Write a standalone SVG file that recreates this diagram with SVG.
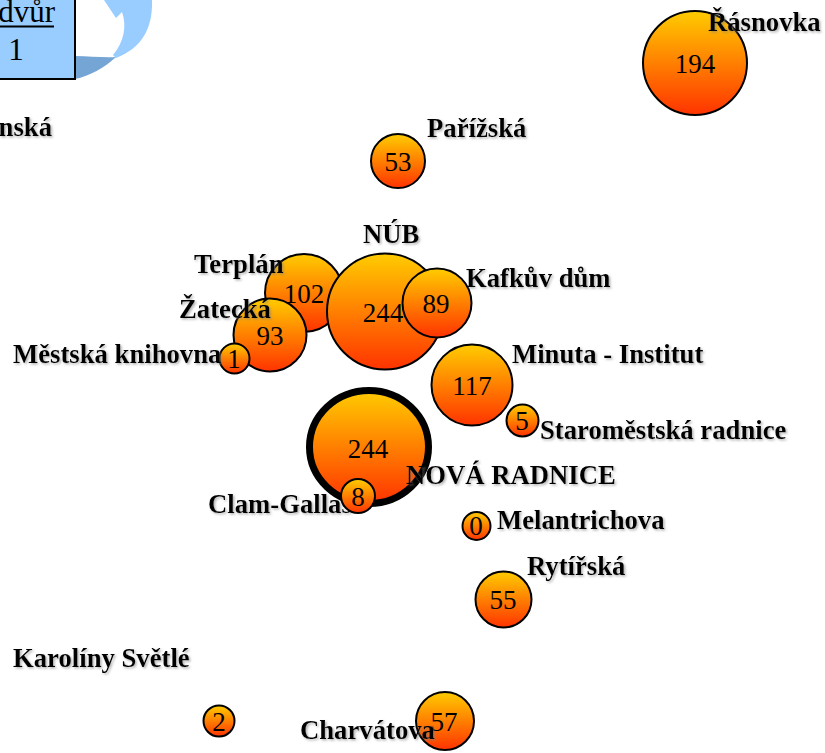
<svg xmlns="http://www.w3.org/2000/svg" width="825" height="753" viewBox="0 0 825 753">
  <defs>
    <linearGradient id="ball" x1="0" y1="0" x2="0" y2="1">
      <stop offset="0" stop-color="#FFCC00"/>
      <stop offset="1" stop-color="#FF3300"/>
    </linearGradient>
    <filter id="shade" x="-5%" y="-20%" width="115%" height="150%">
      <feDropShadow dx="1.5" dy="1.5" stdDeviation="0.8" flood-color="#808080" flood-opacity="0.6"/>
    </filter>
  </defs>
  <style>
    .ball { fill: url(#ball); stroke: #000; stroke-width: 2; }
    .val { font-family: "Liberation Serif", "Times New Roman", serif; font-size: 27px; fill: #000; text-anchor: middle; }
    .lbl { font-family: "Liberation Serif", "Times New Roman", serif; font-size: 26.7px; font-weight: bold; fill: #000; filter: url(#shade); }
    .box { font-family: "Liberation Serif", "Times New Roman", serif; font-size: 31px; fill: #000; }
  </style>
  <rect width="825" height="753" fill="#fff"/>

  <!-- corner legend box and curved arrow -->
  <g id="legend">
    <path d="M104,0 L152,0 C153,28 142,48 116,58 L113,55 C124,42 127,26 122,12 L116,18 Z" fill="#99CCFF"/>
    <path d="M75,56 C90,56 104,58 116,57 C104,68 90,76 75,79 Z" fill="#75A5D5"/>
    <path d="M-2,-2 H75 V79 H-2 Z" fill="#99CCFF"/>
    <path d="M75,-2 V79 H-2" fill="none" stroke="#000" stroke-width="2"/>
    <text class="box" x="55" y="22" text-anchor="end">dvůr</text>
    <line x1="0" y1="26.5" x2="54" y2="26.5" stroke="#000" stroke-width="2"/>
    <text class="box" x="16" y="60" text-anchor="middle">1</text>
  </g>

  <g id="connectors"></g>

  <g id="nska">
    <text class="lbl" x="52" y="136" text-anchor="end">nská</text>
  </g>

  <g id="rasnovka">
    <circle class="ball" cx="695" cy="63" r="52"/>
    <text class="val" x="695" y="73">194</text>
    <text class="lbl" x="708" y="31">Řásnovka</text>
  </g>

  <g id="parizska">
    <circle class="ball" cx="398" cy="161" r="27"/>
    <text class="val" x="398" y="171">53</text>
    <text class="lbl" x="427" y="137">Pařížská</text>
  </g>

  <g id="terplan">
    <circle class="ball" cx="304" cy="293" r="39"/>
    <text class="val" x="304" y="303">102</text>
  </g>

  <g id="nub">
    <circle class="ball" cx="385" cy="311.5" r="58"/>
    <text class="val" x="383" y="322">244</text>
    <text class="lbl" x="363" y="243">NÚB</text>
  </g>

  <g id="kafkuv-dum">
    <circle class="ball" cx="437" cy="303" r="34.5"/>
    <text class="val" x="436" y="313">89</text>
    <text class="lbl" x="466" y="287">Kafkův dům</text>
  </g>

  <g id="zatecka">
    <circle class="ball" cx="270" cy="335" r="36.5"/>
    <text class="val" x="270" y="345">93</text>
  </g>

  <g id="terplan-zatecka-labels">
    <text class="lbl" x="194" y="273">Terplán</text>
    <text class="lbl" x="179" y="318">Žatecká</text>
  </g>

  <g id="mestska-knihovna">
    <circle class="ball" cx="234.5" cy="358.5" r="15"/>
    <text class="val" x="234" y="368">1</text>
    <text class="lbl" x="13" y="363">Městská knihovna</text>
  </g>

  <g id="minuta">
    <circle class="ball" cx="472" cy="385" r="40.5"/>
    <text class="val" x="472" y="395">117</text>
    <text class="lbl" x="512" y="363">Minuta - Institut</text>
  </g>

  <g id="staromestska-radnice">
    <circle class="ball" cx="522.5" cy="420.5" r="16"/>
    <text class="val" x="522" y="430">5</text>
    <text class="lbl" x="540" y="439">Staroměstská radnice</text>
  </g>

  <g id="nova-radnice">
    <ellipse cx="369" cy="447" rx="59.5" ry="56.5" fill="url(#ball)" stroke="#000" stroke-width="7"/>
    <text class="val" x="368" y="458">244</text>
    <text class="lbl" x="406" y="484">NOVÁ RADNICE</text>
  </g>

  <g id="clam-gallas">
    <text class="lbl" x="208" y="513">Clam-Gallas</text>
    <circle class="ball" cx="358" cy="496" r="17"/>
    <text class="val" x="358" y="506">8</text>
  </g>

  <g id="melantrichova">
    <circle class="ball" cx="476.5" cy="526" r="14"/>
    <text class="val" x="476" y="535">0</text>
    <text class="lbl" x="497" y="529">Melantrichova</text>
  </g>

  <g id="rytirska">
    <circle class="ball" cx="503.5" cy="599.5" r="28"/>
    <text class="val" x="503" y="609">55</text>
    <text class="lbl" x="527" y="575">Rytířská</text>
  </g>

  <g id="karoliny-svetle">
    <text class="lbl" x="13" y="667">Karolíny Světlé</text>
  </g>

  <g id="karoliny-svetle-ball">
    <circle class="ball" cx="219" cy="721" r="15.5"/>
    <text class="val" x="219" y="731">2</text>
  </g>

  <g id="charvatova">
    <circle class="ball" cx="445" cy="721" r="29"/>
    <text class="val" x="444" y="731">57</text>
    <text class="lbl" x="300" y="739">Charvátova</text>
  </g>
</svg>
